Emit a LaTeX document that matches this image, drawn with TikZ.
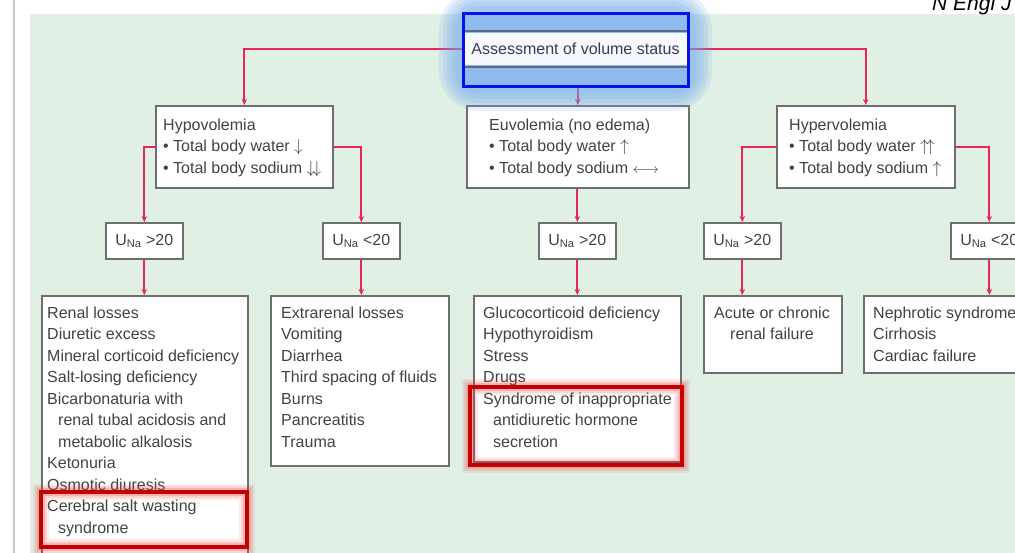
\documentclass[tikz,border=0pt]{standalone}
\usepackage{fontspec}
\setmainfont{Liberation Sans}
\usetikzlibrary{arrows.meta,shadows}

\definecolor{bgmint}{RGB}{224,240,229}
\definecolor{pagerule}{RGB}{200,200,200}
\definecolor{flowred}{RGB}{232,38,88}
\definecolor{boxline}{RGB}{110,110,110}
\definecolor{txtgray}{RGB}{66,66,66}
\definecolor{hlblue}{RGB}{8,18,232}
\definecolor{glowblue}{RGB}{110,165,238}
\definecolor{bandblue}{RGB}{142,186,238}
\definecolor{bandwhite}{RGB}{245,248,253}
\definecolor{bandline}{RGB}{92,108,128}
\definecolor{hlred}{RGB}{198,0,0}
\definecolor{glowred}{RGB}{232,60,60}

\pgfdeclarelayer{back}
\pgfdeclarelayer{links}
\pgfsetlayers{back,links,main}

\tikzset{
  box/.style={draw=boxline, line width=1.6pt, fill=white, inner sep=0pt,
    anchor=north west,
    drop shadow={shadow xshift=1.2pt, shadow yshift=-1.2pt, fill=black, opacity=0.22}},
  ubox/.style={box, minimum width=77pt, minimum height=36pt},
  txt/.style={inner sep=0pt, align=left, anchor=north west, text=txtgray,
    font=\fontsize{16}{21.5}\selectfont},
  utxt/.style={inner sep=0pt, text=txtgray, font=\fontsize{16}{19}\selectfont},
  link/.style={draw=flowred, line width=1.8pt,
    -{Stealth[length=6pt,width=5.5pt]}},
}
\newcommand{\dn}{{\fontsize{17}{17}\selectfont$\downarrow$}}
\newcommand{\up}{{\fontsize{17}{17}\selectfont$\uparrow$}}
\newcommand{\lr}{{\fontsize{14}{14}\selectfont$\longleftrightarrow$}}
\newcommand{\una}{U\textsubscript{Na}}

\begin{document}
\begin{tikzpicture}[x=1pt,y=-1pt]
\useasboundingbox (0,0) rectangle (1015,553);
\clip (0,0) rectangle (1015,553);

% page and panel background
\begin{pgfonlayer}{back}
  \fill[white] (0,0) rectangle (1015,553);
  \draw[pagerule, line width=1.5pt] (14,0) -- (14,553);
  \fill[bgmint] (30,14) rectangle (1015,553);
  \node[anchor=base west, inner sep=0pt, font=\fontsize{21}{21}\selectfont\itshape]
    (journal) at (932,11) {N Engl J};
\end{pgfonlayer}

% volume status level
\node[box, minimum width=177pt, minimum height=82pt] (hypo) at (155,105) {};
\node[box, minimum width=222pt, minimum height=82pt] (euvo) at (466,105) {};
\node[box, minimum width=178pt, minimum height=82pt] (hyper) at (776,105) {};

\node[txt] (hypotxt) at (163,115)
  {\strut Hypovolemia\\ \textbullet\ Total body water \dn\\ \textbullet\ Total body sodium \dn\!\dn};
\node[txt] (euvotxt) at (489,115)
  {\strut Euvolemia (no edema)\\ \textbullet\ Total body water \up\\ \textbullet\ Total body sodium \lr};
\node[txt] (hypertxt) at (789,115)
  {\strut Hypervolemia\\ \textbullet\ Total body water \up\!\up\\ \textbullet\ Total body sodium \up};

% urine sodium level
\node[ubox] (u1) at (105,222) {};
\node[ubox] (u2) at (322,222) {};
\node[ubox] (u3) at (538,222) {};
\node[ubox] (u4) at (703,222) {};
\node[ubox] (u5) at (950,222) {};
\node[utxt] (u1t) at (u1.center) {\una\ >20};
\node[utxt] (u2t) at (u2.center) {\una\ <20};
\node[utxt] (u3t) at (u3.center) {\una\ >20};
\node[utxt] (u4t) at (u4.center) {\una\ >20};
\node[utxt] (u5t) at (u5.center) {\una\ <20};

% causes
\node[box, minimum width=206pt, minimum height=275pt] (renal) at (41,295) {};
\node[box, minimum width=178pt, minimum height=170pt] (extra) at (270,295) {};
\node[box, minimum width=207pt, minimum height=166pt] (gluco) at (473,295) {};
\node[box, minimum width=138pt, minimum height=77pt] (acute) at (703,295) {};
\node[box, minimum width=220pt, minimum height=77pt] (neph) at (863,295) {};

\node[txt] (renaltxt) at (47,303)
  {\strut Renal losses\\ Diuretic excess\\ Mineral corticoid deficiency\\
   Salt-losing deficiency\\ Bicarbonaturia with\\
   \hspace*{11pt}renal tubal acidosis and\\ \hspace*{11pt}metabolic alkalosis\\
   Ketonuria\\ Osmotic diuresis\\ Cerebral salt wasting\\ \hspace*{11pt}syndrome};
\node[txt] (extratxt) at (281,303)
  {\strut Extrarenal losses\\ Vomiting\\ Diarrhea\\ Third spacing of fluids\\
   Burns\\ Pancreatitis\\ Trauma};
\node[txt] (glucotxt) at (483,303)
  {\strut Glucocorticoid deficiency\\ Hypothyroidism\\ Stress\\ Drugs\\
   Syndrome of inappropriate\\ \hspace*{10pt}antidiuretic hormone\\ \hspace*{10pt}secretion};
\node[txt, align=center, anchor=north] (acutetxt) at (772,303)
  {\strut Acute or chronic\\ renal failure};
\node[txt] (nephtxt) at (873,303)
  {\strut Nephrotic syndrome\\ Cirrhosis\\ Cardiac failure};

% highlighted root box
\foreach \w in {48,40,32,24,16}
  \draw[glowblue, opacity=0.16, line width=\w pt, rounded corners=16pt]
    (463,14) rectangle (688,87);
\fill[bandblue] (463,14) rectangle (688,87);
\node[minimum width=225pt, minimum height=36pt, inner sep=0pt] (root) at (575.5,49) {};
\fill[bandwhite] ([yshift=-2pt]root.north west) rectangle ([yshift=2pt]root.south east);
\draw[bandline, line width=2.5pt] (root.north west) -- (root.north east);
\draw[bandline, line width=2.5pt] (root.south west) -- (root.south east);
\node[utxt, text=txtgray!90!blue] (roottxt) at (root.center) {Assessment of volume status};
\draw[hlblue, line width=3pt] (463,14) rectangle (688,87);

% red highlight frames
\foreach \w/\o in {16/0.10,12/0.14,8/0.20} {
  \draw[glowred, opacity=\o, line width=\w pt] (41,492) rectangle (247,547);
  \draw[glowred, opacity=\o, line width=\w pt] (470,387) rectangle (682,465);
}
\draw[hlred, line width=4pt] (41,492) rectangle (247,547);
\draw[hlred, line width=4pt] (470,387) rectangle (682,465);

% connectors
\begin{pgfonlayer}{links}
  \draw[link] (root.west) -| (hypo.north);
  \draw[link] (root.east) -| (hyper.north);
  \draw[link] (euvo.north |- root.south) -- (euvo.north);
  \draw[link] (hypo.west) -| (u1.north);
  \draw[link] (hypo.east) -| (u2.north);
  \draw[link] (euvo.south) -- (euvo.south -| u3.north) -- (u3.north);
  \draw[link] (hyper.west) -| (u4.north);
  \draw[link] (hyper.east) -| (u5.north);
  \draw[link] (u1.south) -- (u1.south |- renal.north);
  \draw[link] (u2.south) -- (u2.south |- extra.north);
  \draw[link] (u3.south) -- (u3.south |- gluco.north);
  \draw[link] (u4.south) -- (u4.south |- acute.north);
  \draw[link] (u5.south) -- (u5.south |- neph.north);
\end{pgfonlayer}
\end{tikzpicture}
\end{document}
